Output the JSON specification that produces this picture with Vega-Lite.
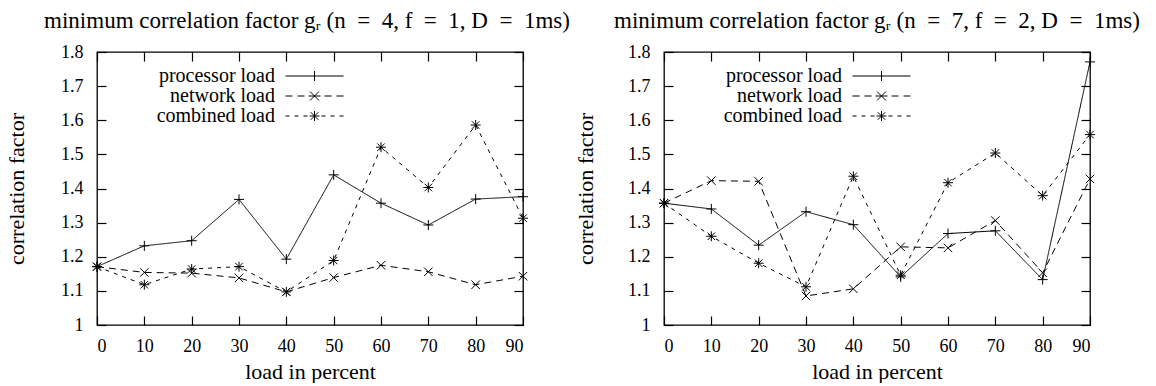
{
  "$schema": "https://vega.github.io/schema/vega-lite/v6.json",
  "padding": {"left": 4, "top": 9, "right": 0, "bottom": 0},
  "background": "white",
  "config": {
    "font": "Liberation Serif",
    "view": {"stroke": "black", "strokeWidth": 1.3},
    "axis": {
      "domain": false, "grid": false,
      "tickColor": "black", "tickSize": -9, "tickWidth": 1.2,
      "labelFont": "Liberation Serif", "labelFontSize": 18, "labelColor": "black",
      "titleFont": "Liberation Serif", "titleFontSize": 22, "titleFontWeight": "normal", "titleColor": "black"
    },
    "title": {"font": "Liberation Serif", "fontSize": 23, "fontWeight": "normal", "color": "black", "anchor": "middle", "baseline": "alphabetic", "offset": 10},
    "legend": {
      "orient": "none", "legendX": 207.5, "legendY": 14,
      "labelFont": "Liberation Serif", "labelFontSize": 20, "labelColor": "black",
      "labelAlign": "right", "labelOffset": -49.5, "labelLimit": 400,
      "symbolSize": 256, "symbolStrokeColor": "black", "symbolFillColor": "transparent", "symbolStrokeWidth": 1,
      "rowPadding": -1, "padding": 0
    }
  },
  "data": {"values": [
    {"panel": "A", "series": "processor load", "load": 0, "value": 1.171},
    {"panel": "A", "series": "processor load", "load": 10, "value": 1.232},
    {"panel": "A", "series": "processor load", "load": 20, "value": 1.247},
    {"panel": "A", "series": "processor load", "load": 30, "value": 1.368},
    {"panel": "A", "series": "processor load", "load": 40, "value": 1.193},
    {"panel": "A", "series": "processor load", "load": 50, "value": 1.44},
    {"panel": "A", "series": "processor load", "load": 60, "value": 1.357},
    {"panel": "A", "series": "processor load", "load": 70, "value": 1.293},
    {"panel": "A", "series": "processor load", "load": 80, "value": 1.369},
    {"panel": "A", "series": "processor load", "load": 90, "value": 1.376},
    {"panel": "A", "series": "network load", "load": 0, "value": 1.171},
    {"panel": "A", "series": "network load", "load": 10, "value": 1.154},
    {"panel": "A", "series": "network load", "load": 20, "value": 1.152},
    {"panel": "A", "series": "network load", "load": 30, "value": 1.138},
    {"panel": "A", "series": "network load", "load": 40, "value": 1.097},
    {"panel": "A", "series": "network load", "load": 50, "value": 1.139},
    {"panel": "A", "series": "network load", "load": 60, "value": 1.175},
    {"panel": "A", "series": "network load", "load": 70, "value": 1.156},
    {"panel": "A", "series": "network load", "load": 80, "value": 1.118},
    {"panel": "A", "series": "network load", "load": 90, "value": 1.143},
    {"panel": "A", "series": "combined load", "load": 0, "value": 1.171},
    {"panel": "A", "series": "combined load", "load": 10, "value": 1.118},
    {"panel": "A", "series": "combined load", "load": 20, "value": 1.164},
    {"panel": "A", "series": "combined load", "load": 30, "value": 1.171},
    {"panel": "A", "series": "combined load", "load": 40, "value": 1.097},
    {"panel": "A", "series": "combined load", "load": 50, "value": 1.189},
    {"panel": "A", "series": "combined load", "load": 60, "value": 1.521},
    {"panel": "A", "series": "combined load", "load": 70, "value": 1.403},
    {"panel": "A", "series": "combined load", "load": 80, "value": 1.586},
    {"panel": "A", "series": "combined load", "load": 90, "value": 1.313},
    {"panel": "B", "series": "processor load", "load": 0, "value": 1.357},
    {"panel": "B", "series": "processor load", "load": 10, "value": 1.34},
    {"panel": "B", "series": "processor load", "load": 20, "value": 1.234},
    {"panel": "B", "series": "processor load", "load": 30, "value": 1.332},
    {"panel": "B", "series": "processor load", "load": 40, "value": 1.294},
    {"panel": "B", "series": "processor load", "load": 50, "value": 1.141},
    {"panel": "B", "series": "processor load", "load": 60, "value": 1.268},
    {"panel": "B", "series": "processor load", "load": 70, "value": 1.276},
    {"panel": "B", "series": "processor load", "load": 80, "value": 1.133},
    {"panel": "B", "series": "processor load", "load": 90, "value": 1.771},
    {"panel": "B", "series": "network load", "load": 0, "value": 1.357},
    {"panel": "B", "series": "network load", "load": 10, "value": 1.423},
    {"panel": "B", "series": "network load", "load": 20, "value": 1.421},
    {"panel": "B", "series": "network load", "load": 30, "value": 1.085},
    {"panel": "B", "series": "network load", "load": 40, "value": 1.106},
    {"panel": "B", "series": "network load", "load": 50, "value": 1.229},
    {"panel": "B", "series": "network load", "load": 60, "value": 1.226},
    {"panel": "B", "series": "network load", "load": 70, "value": 1.306},
    {"panel": "B", "series": "network load", "load": 80, "value": 1.153},
    {"panel": "B", "series": "network load", "load": 90, "value": 1.428},
    {"panel": "B", "series": "combined load", "load": 0, "value": 1.357},
    {"panel": "B", "series": "combined load", "load": 10, "value": 1.26},
    {"panel": "B", "series": "combined load", "load": 20, "value": 1.181},
    {"panel": "B", "series": "combined load", "load": 30, "value": 1.112},
    {"panel": "B", "series": "combined load", "load": 40, "value": 1.436},
    {"panel": "B", "series": "combined load", "load": 50, "value": 1.146},
    {"panel": "B", "series": "combined load", "load": 60, "value": 1.417},
    {"panel": "B", "series": "combined load", "load": 70, "value": 1.504},
    {"panel": "B", "series": "combined load", "load": 80, "value": 1.379},
    {"panel": "B", "series": "combined load", "load": 90, "value": 1.558}
  ]},
  "spacing": 141,
  "bounds": "flush",
  "hconcat": [
    {
      "title": {"text": "minimum correlation factor gᵣ (n\u2002=\u20024, f\u2002=\u20021, D\u2002=\u20021ms)", "dx": -3},
      "width": 426, "height": 273,
      "transform": [{"filter": "datum.panel == 'A'"}],
      "layer": [
        {
          "mark": {"type": "line", "color": "black", "strokeWidth": 1},
          "encoding": {
            "x": {"field": "load", "type": "quantitative", "scale": {"domain": [0, 90], "nice": false, "zero": false},
                  "axis": {"orient": "bottom", "values": [0,10,20,30,40,50,60,70,80,90], "title": "load in percent", "labelPadding": 21, "titlePadding": 6}},
            "y": {"field": "value", "type": "quantitative", "scale": {"domain": [1, 1.8], "nice": false, "zero": false},
                  "axis": {"orient": "left", "values": [1,1.1,1.2,1.3,1.4,1.5,1.6,1.7,1.8], "format": "~g", "title": "correlation factor", "labelPadding": 23, "titlePadding": 32}},
            "strokeDash": {"field": "series", "type": "nominal",
                  "scale": {"domain": ["processor load", "network load", "combined load"], "range": [[1, 0], [7, 5], [4, 5]]}, "legend": null}
          }
        },
        {
          "mark": {"type": "point", "filled": false, "color": "black", "strokeWidth": 1, "size": 100, "opacity": 1},
          "encoding": {
            "x": {"field": "load", "type": "quantitative", "axis": {"orient": "top", "values": [0,10,20,30,40,50,60,70,80,90], "labels": false, "title": null}},
            "y": {"field": "value", "type": "quantitative", "axis": {"orient": "right", "values": [1,1.1,1.2,1.3,1.4,1.5,1.6,1.7,1.8], "labels": false, "title": null}},
            "shape": {"field": "series", "type": "nominal",
                  "scale": {"domain": ["processor load", "network load", "combined load"],
                            "range": ["M-1,0H1M0,-1V1", "M-0.85,-0.85L0.85,0.85M-0.85,0.85L0.85,-0.85", "M-1,0H1M0,-1V1M-0.75,-0.75L0.75,0.75M-0.75,0.75L0.75,-0.75"]},
                  "legend": null}
          }
        },
        {
          "transform": [{"filter": "false"}],
          "mark": {"type": "point", "filled": false, "color": "black", "strokeWidth": 1, "opacity": 1},
          "encoding": {
            "x": {"field": "load", "type": "quantitative", "axis": null},
            "y": {"field": "value", "type": "quantitative", "axis": null},
            "shape": {"field": "series", "type": "nominal",
                  "scale": {"domain": ["processor load", "network load", "combined load"],
                            "range": ["M-3.625,0H3.625M0,-0.625V0.625",
                                      "M-3.625,0H-2.75M-2.125,0H-1.25M-0.75,0H0.75M1.25,0H2.125M2.75,0H3.625M-0.56,-0.56L0.56,0.56M-0.56,0.56L0.56,-0.56",
                                      "M-3.625,0H-3.125M-2.5,0H-2M-1.375,0H-0.875M0.875,0H1.375M2,0H2.5M3.125,0H3.625M-0.625,0H0.625M0,-0.625V0.625M-0.47,-0.47L0.47,0.47M-0.47,0.47L0.47,-0.47"]},
                  "legend": {"title": null}}
          }
        }
      ],
      "resolve": {"scale": {"shape": "independent"}, "axis": {"x": "independent", "y": "independent"}}
    },
    {
      "title": {"text": "minimum correlation factor gᵣ (n\u2002=\u20027, f\u2002=\u20022, D\u2002=\u20021ms)", "dx": 0},
      "width": 426, "height": 273,
      "transform": [{"filter": "datum.panel == 'B'"}],
      "layer": [
        {
          "mark": {"type": "line", "color": "black", "strokeWidth": 1},
          "encoding": {
            "x": {"field": "load", "type": "quantitative", "scale": {"domain": [0, 90], "nice": false, "zero": false},
                  "axis": {"orient": "bottom", "values": [0,10,20,30,40,50,60,70,80,90], "title": "load in percent", "labelPadding": 21, "titlePadding": 6}},
            "y": {"field": "value", "type": "quantitative", "scale": {"domain": [1, 1.8], "nice": false, "zero": false},
                  "axis": {"orient": "left", "values": [1,1.1,1.2,1.3,1.4,1.5,1.6,1.7,1.8], "format": "~g", "title": "correlation factor", "labelPadding": 23, "titlePadding": 30}},
            "strokeDash": {"field": "series", "type": "nominal",
                  "scale": {"domain": ["processor load", "network load", "combined load"], "range": [[1, 0], [7, 5], [4, 5]]}, "legend": null}
          }
        },
        {
          "mark": {"type": "point", "filled": false, "color": "black", "strokeWidth": 1, "size": 100, "opacity": 1},
          "encoding": {
            "x": {"field": "load", "type": "quantitative", "axis": {"orient": "top", "values": [0,10,20,30,40,50,60,70,80,90], "labels": false, "title": null}},
            "y": {"field": "value", "type": "quantitative", "axis": {"orient": "right", "values": [1,1.1,1.2,1.3,1.4,1.5,1.6,1.7,1.8], "labels": false, "title": null}},
            "shape": {"field": "series", "type": "nominal",
                  "scale": {"domain": ["processor load", "network load", "combined load"],
                            "range": ["M-1,0H1M0,-1V1", "M-0.85,-0.85L0.85,0.85M-0.85,0.85L0.85,-0.85", "M-1,0H1M0,-1V1M-0.75,-0.75L0.75,0.75M-0.75,0.75L0.75,-0.75"]},
                  "legend": null}
          }
        },
        {
          "transform": [{"filter": "false"}],
          "mark": {"type": "point", "filled": false, "color": "black", "strokeWidth": 1, "opacity": 1},
          "encoding": {
            "x": {"field": "load", "type": "quantitative", "axis": null},
            "y": {"field": "value", "type": "quantitative", "axis": null},
            "shape": {"field": "series", "type": "nominal",
                  "scale": {"domain": ["processor load", "network load", "combined load"],
                            "range": ["M-3.625,0H3.625M0,-0.625V0.625",
                                      "M-3.625,0H-2.75M-2.125,0H-1.25M-0.75,0H0.75M1.25,0H2.125M2.75,0H3.625M-0.56,-0.56L0.56,0.56M-0.56,0.56L0.56,-0.56",
                                      "M-3.625,0H-3.125M-2.5,0H-2M-1.375,0H-0.875M0.875,0H1.375M2,0H2.5M3.125,0H3.625M-0.625,0H0.625M0,-0.625V0.625M-0.47,-0.47L0.47,0.47M-0.47,0.47L0.47,-0.47"]},
                  "legend": {"title": null}}
          }
        }
      ],
      "resolve": {"scale": {"shape": "independent"}, "axis": {"x": "independent", "y": "independent"}}
    }
  ]
}
